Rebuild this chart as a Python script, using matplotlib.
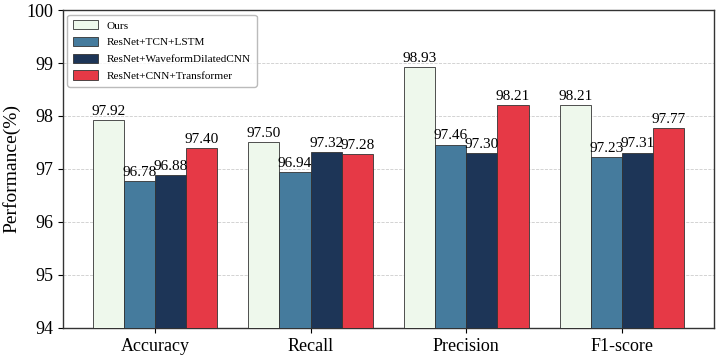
import matplotlib
matplotlib.use("Agg")
import matplotlib.pyplot as plt
import numpy as np

plt.rcParams['font.family'] = ['Liberation Serif', 'DejaVu Serif']

metrics = ["Accuracy", "Recall", "Precision", "F1-score"]
models = ["Ours", "ResNet+TCN+LSTM", "ResNet+WaveformDilatedCNN", "ResNet+CNN+Transformer"]
values = {
    "Ours": [97.92, 97.50, 98.93, 98.21],
    "ResNet+TCN+LSTM": [96.78, 96.94, 97.46, 97.23],
    "ResNet+WaveformDilatedCNN": [96.88, 97.32, 97.30, 97.31],
    "ResNet+CNN+Transformer": [97.40, 97.28, 98.21, 97.77],
}
colors = ["#EEF8EC", "#457B9D", "#1D3557", "#E63946"]

fig = plt.figure(figsize=(7.19, 3.58), dpi=100)
ax = fig.add_axes([0.0876, 0.084, 0.9054, 0.888])

x = np.arange(len(metrics))
w = 0.2
for i, m in enumerate(models):
    pos = x + (i - 1.5) * w
    bars = ax.bar(pos, values[m], w, bottom=0, color=colors[i], edgecolor="#333333",
                  linewidth=0.6, label=m, zorder=3)
    for b, v in zip(bars, values[m]):
        ax.text(b.get_x() + b.get_width() / 2, v + 0.04, f"{v:.2f}",
                ha="center", va="bottom", fontsize=11, zorder=4)

ax.set_ylim(94, 100)
ax.set_yticks(range(94, 101))
ax.set_xticks(x)
ax.set_xticklabels(metrics, fontsize=13)
ax.tick_params(axis="y", labelsize=13)
ax.set_ylabel("Performance(%)", fontsize=14)
ax.yaxis.grid(True, linestyle="--", color="#cccccc", linewidth=0.6, zorder=0)
ax.set_axisbelow(True)
for s in ax.spines.values():
    s.set_color("#333333")
    s.set_linewidth(1.0)
ax.legend(loc="upper left", fontsize=8.1, frameon=True, edgecolor="#aaaaaa",
          handlelength=2.2, handleheight=0.9, borderpad=0.5, labelspacing=0.55,
          borderaxespad=0.4)

fig.savefig("out.png", dpi=100)
